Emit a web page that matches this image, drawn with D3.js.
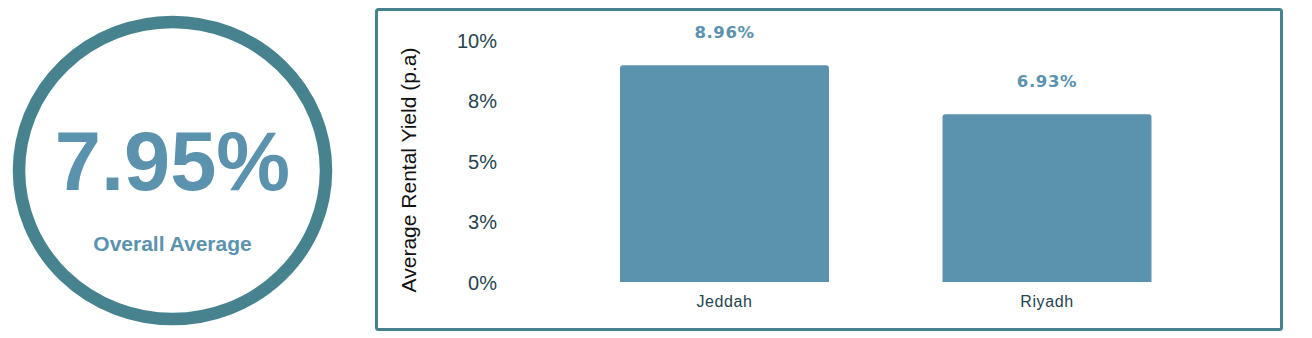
<!DOCTYPE html>
<html>
<head>
<meta charset="utf-8">
<script src="https://cdn.jsdelivr.net/npm/d3@7"></script>
<style>
  body { margin: 0; background: #fff; }
  svg text { font-family: "Liberation Sans", Arimo, Arial, sans-serif; }
</style>
</head>
<body>
<svg id="chart" width="1312" height="338"></svg>
<script>
// Data
var cities = ["Jeddah", "Riyadh"];
var yields = [8.96, 6.93];
var overallAverage = 7.95;
var overallLabel = "Overall Average";
var yTicks = [0, 2.5, 5, 7.5, 10];

var ringColor = "#47838f",
    barColor = "#5b92ad",
    darkText = "#24444e";

var svg = d3.select("#chart");

// The ring with the overall average (slightly squashed, as in the source)
var circle = svg.append("g").attr("transform", "translate(172.5,170.5)");

circle.append("ellipse")
    .attr("rx", 153.5)
    .attr("ry", 148.5)
    .attr("fill", "none")
    .attr("stroke", ringColor)
    .attr("stroke-width", 12.5);

circle.append("text")
    .attr("y", 19)
    .attr("text-anchor", "middle")
    .style("font-weight", "bold")
    .style("font-size", "83px")
    .attr("fill", barColor)
    .text(overallAverage.toFixed(2) + "%");

circle.append("text")
    .attr("y", 80)
    .attr("text-anchor", "middle")
    .style("font-weight", "bold")
    .style("font-size", "21px")
    .attr("fill", barColor)
    .text(overallLabel);

// The bar chart box
svg.append("rect")
    .attr("x", 376.5)
    .attr("y", 9.5)
    .attr("width", 905)
    .attr("height", 320)
    .attr("rx", 2)
    .attr("fill", "none")
    .attr("stroke", ringColor)
    .attr("stroke-width", 3);

var x = d3.scaleBand()
    .domain(cities)
    .range([506.5, 1265])
    .paddingInner(0.352)
    .paddingOuter(0.352);

var y = d3.scaleLinear()
    .domain([0, 10])
    .range([282, 40]);

// Y axis (labels only)
var yAxis = svg.append("g")
    .attr("transform", "translate(497,0)")
    .call(d3.axisLeft(y)
        .tickValues(yTicks)
        .tickSize(0)
        .tickPadding(0)
        .tickFormat(function (d) { return Math.round(d) + "%"; }));

yAxis.select(".domain").remove();
yAxis.attr("font-family", null);
yAxis.selectAll("text")
    .attr("dy", "0.35em")
    .style("font-size", "20px")
    .attr("fill", darkText);

svg.append("text")
    .attr("transform", "translate(416,170) rotate(-90)")
    .attr("text-anchor", "middle")
    .style("font-size", "21px")
    .attr("fill", "#111")
    .text("Average Rental Yield (p.a)");

// Bars with rounded tops
var r = 3;
svg.append("g")
    .selectAll("path")
    .data(cities)
    .enter()
    .append("path")
    .attr("fill", barColor)
    .attr("d", function (d, i) {
        var x0 = x(d), x1 = x(d) + x.bandwidth(),
            y0 = y(0), y1 = y(yields[i]);
        return "M" + x0 + "," + y0 +
            "V" + (y1 + r) +
            "Q" + x0 + "," + y1 + " " + (x0 + r) + "," + y1 +
            "H" + (x1 - r) +
            "Q" + x1 + "," + y1 + " " + x1 + "," + (y1 + r) +
            "V" + y0 + "Z";
    });

// Value labels
svg.append("g")
    .selectAll("text")
    .data(cities)
    .enter()
    .append("text")
    .attr("x", function (d) { return x(d) + x.bandwidth() / 2; })
    .attr("y", function (d, i) { return y(yields[i]) - 27; })
    .attr("text-anchor", "middle")
    .style("font-family", "'DejaVu Sans', sans-serif")
    .style("font-weight", "bold")
    .style("font-size", "16.5px")
    .style("letter-spacing", "0.6px")
    .attr("fill", barColor)
    .text(function (d, i) { return yields[i].toFixed(2) + "%"; });

// X axis labels
var xAxis = svg.append("g")
    .attr("transform", "translate(0," + y(0) + ")")
    .call(d3.axisBottom(x).tickSize(0).tickPadding(0));

xAxis.select(".domain").remove();
xAxis.attr("font-family", null);
xAxis.selectAll("text")
    .attr("dy", 0)
    .attr("y", 25)
    .style("font-size", "16px")
    .style("letter-spacing", "0.6px")
    .attr("fill", darkText);
</script>
</body>
</html>
